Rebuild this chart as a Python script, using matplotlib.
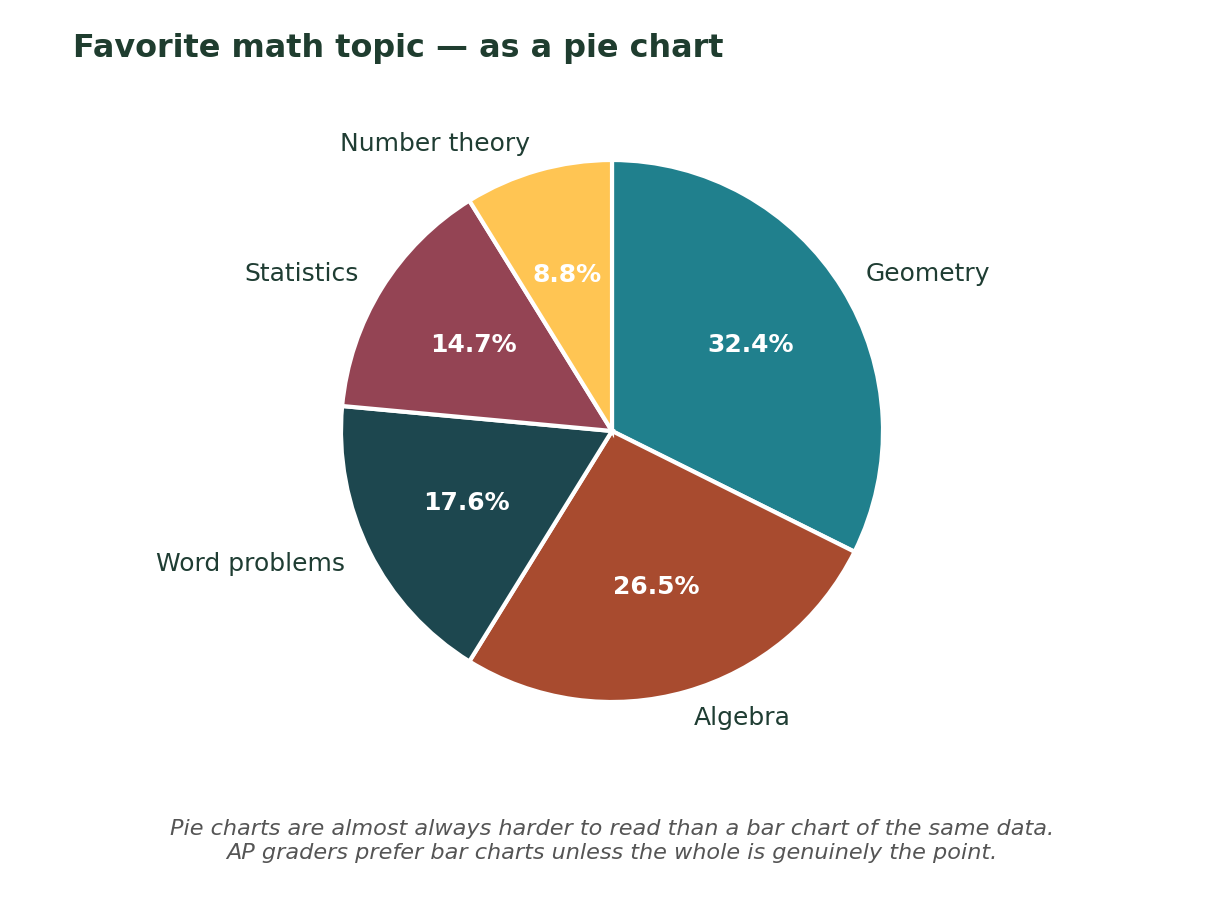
import matplotlib
matplotlib.use("Agg")
from matplotlib import pyplot as plt

topics = ["Geometry", "Algebra", "Word problems", "Statistics", "Number theory"]
counts = [11, 9, 6, 5, 3]
colors = ["#20808D", "#A84B2F", "#1D474F", "#944454", "#FFC553"]

title = "Favorite math topic \u2014 as a pie chart"
caption = ("Pie charts are almost always harder to read than a bar chart of the same data.\n"
           "AP graders prefer bar charts unless the whole is genuinely the point.")

fig = plt.figure(figsize=(8.16, 6.12), dpi=150)

# pie centre ~(612, 431) px, radius ~271 px
cx, cy, r = 612 / 1224, 1 - 431 / 918, 271
ax = fig.add_axes([cx - r / 1224, cy - r / 918, 2 * r / 1224, 2 * r / 918])

wedges, texts, autotexts = ax.pie(
    counts, labels=topics, colors=colors, startangle=90, counterclock=False,
    autopct="%1.1f%%", pctdistance=0.6, labeldistance=1.1,
    wedgeprops=dict(edgecolor="white", linewidth=2),
    textprops=dict(fontsize=12, color="#1F3D33"))
for t in autotexts:
    t.set_color("white")
    t.set_fontweight("bold")
    t.set_fontsize(12)
ax.set_xlim(-1, 1)
ax.set_ylim(-1, 1)
ax.set_aspect("equal")

fig.text(73 / 1224, 1 - 49 / 918, title, ha="left", va="center",
         fontsize=15.3, fontweight="bold", color="#1F3D2F")
fig.text(0.5, 1 - 841 / 918, caption, ha="center", va="center",
         fontsize=10.75, style="italic", color="#555555", linespacing=1.2)

fig.savefig("out.png", dpi=150, facecolor="white")
